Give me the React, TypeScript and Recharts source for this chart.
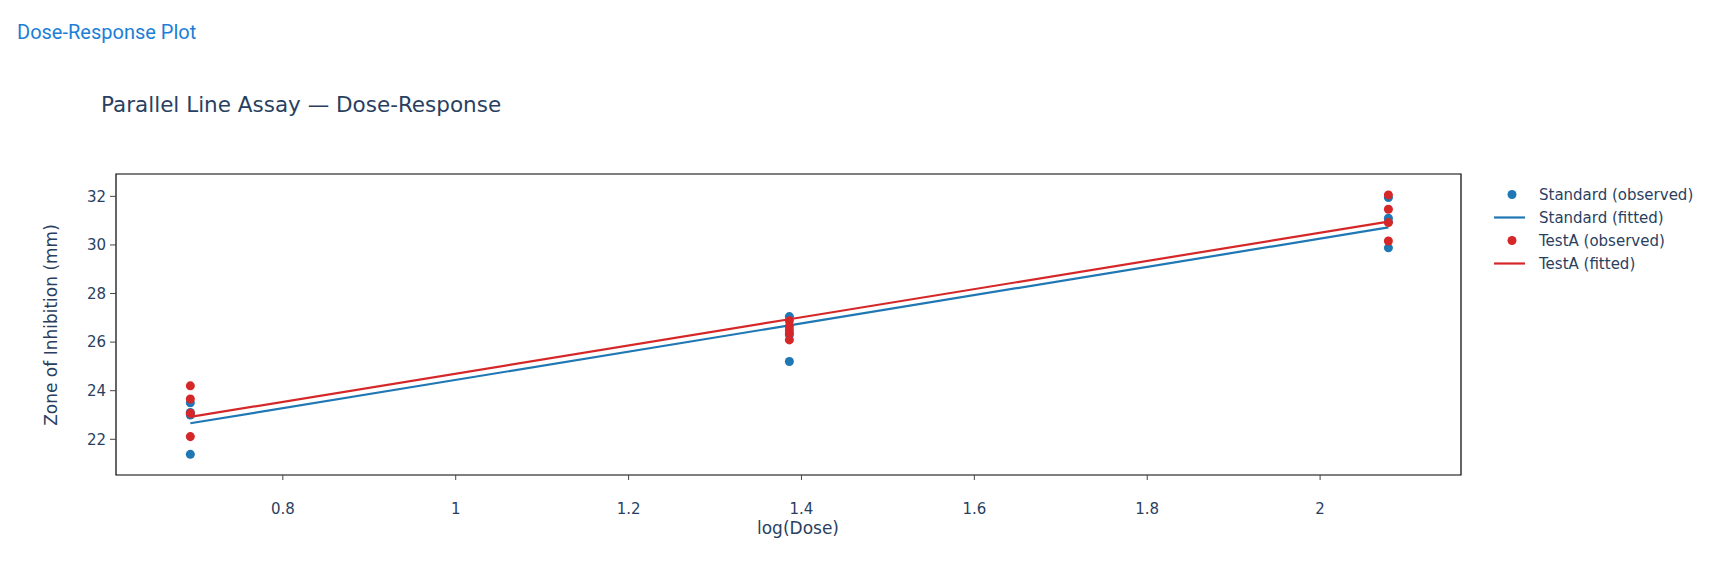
import React from "react";
import {
  ComposedChart,
  Scatter,
  XAxis,
  YAxis,
  ReferenceArea,
} from "recharts";

// log(Dose) levels
const LOG_DOSES = [0.693, 1.386, 2.079];

// observed zones (mm), 4 replicates per dose
const STD_OBSERVED = [
  [23.5, 23.1, 23.0, 21.38],
  [27.05, 26.5, 26.3, 25.2],
  [31.95, 31.1, 30.95, 29.88],
];
const TEST_OBSERVED = [
  [24.2, 23.66, 23.07, 22.11],
  [26.88, 26.64, 26.38, 26.09],
  [32.06, 31.47, 30.92, 30.16],
];

// fitted responses at each dose
const STD_FITTED = [22.66, 26.69, 30.72];
const TEST_FITTED = [22.92, 26.94, 30.96];

const X_TICKS = [0.8, 1, 1.2, 1.4, 1.6, 1.8, 2];
const Y_TICKS = [22, 24, 26, 28, 30, 32];
const X_DOMAIN: [number, number] = [0.607, 2.163];
const Y_DOMAIN: [number, number] = [20.53, 32.92];

const BLUE = "#1f77b4";
const RED = "#d62728";
const TEXT = "#2a3f5f";
const FONT = "'DejaVu Sans', Verdana, sans-serif";

const toPoints = (groups: number[][]) =>
  groups.flatMap((vals, i) => vals.map((y) => ({ x: LOG_DOSES[i], y })));
const toLine = (vals: number[]) => vals.map((y, i) => ({ x: LOG_DOSES[i], y }));

const stdPoints = toPoints(STD_OBSERVED);
const testPoints = toPoints(TEST_OBSERVED);
const stdLine = toLine(STD_FITTED);
const testLine = toLine(TEST_FITTED);

const legendItems = [
  { label: "Standard (observed)", color: BLUE, kind: "dot" },
  { label: "Standard (fitted)", color: BLUE, kind: "line" },
  { label: "TestA (observed)", color: RED, kind: "dot" },
  { label: "TestA (fitted)", color: RED, kind: "line" },
];

const noShape = () => <g />;

export default function App() {
  return (
    <div
      style={{
        position: "absolute",
        left: 0,
        top: 0,
        width: 1712,
        height: 562,
        background: "#fff",
        fontFamily: FONT,
        color: TEXT,
      }}
    >
      <div
        style={{
          position: "absolute",
          left: 17,
          top: 20,
          fontFamily: "Roboto, sans-serif",
          fontSize: 20,
          color: "#1c7ed6",
        }}
      >
        Dose-Response Plot
      </div>
      <div style={{ position: "absolute", left: 101, top: 92, fontSize: 21.5 }}>
        Parallel Line Assay — Dose-Response
      </div>

      <div style={{ position: "absolute", left: 0, top: 0 }}>
        <ComposedChart
          width={1712}
          height={562}
          margin={{ top: 174, right: 251, bottom: 57, left: 56 }}
        >
          <XAxis
            type="number"
            dataKey="x"
            domain={X_DOMAIN}
            ticks={X_TICKS}
            allowDataOverflow
            height={30}
            tickSize={5}
            tickMargin={23}
            axisLine={false}
            tickLine={{ stroke: "#444" }}
            tick={{ fill: TEXT, fontSize: 15, fontFamily: FONT }}
          />
          <YAxis
            type="number"
            dataKey="y"
            domain={Y_DOMAIN}
            ticks={Y_TICKS}
            allowDataOverflow
            width={60}
            tickSize={6}
            tickMargin={4}
            axisLine={false}
            tickLine={{ stroke: "#444" }}
            tick={{ fill: TEXT, fontSize: 15, fontFamily: FONT }}
          />
          <ReferenceArea
            x1={X_DOMAIN[0]}
            x2={X_DOMAIN[1]}
            y1={Y_DOMAIN[0]}
            y2={Y_DOMAIN[1]}
            fill="none"
            stroke="#000"
            strokeWidth={1.2}
          />
          <Scatter
            data={stdPoints}
            fill={BLUE}
            shape="circle"
            isAnimationActive={false}
          />
          <Scatter
            data={stdLine}
            line={{ stroke: BLUE, strokeWidth: 2.2 }}
            shape={noShape}
            isAnimationActive={false}
          />
          <Scatter
            data={testPoints}
            fill={RED}
            shape="circle"
            isAnimationActive={false}
          />
          <Scatter
            data={testLine}
            line={{ stroke: RED, strokeWidth: 2.2 }}
            shape={noShape}
            isAnimationActive={false}
          />
        </ComposedChart>
      </div>

      <div
        style={{
          position: "absolute",
          left: 51,
          top: 325,
          transform: "translate(-50%, -50%) rotate(-90deg)",
          fontSize: 17,
          whiteSpace: "nowrap",
        }}
      >
        Zone of Inhibition (mm)
      </div>
      <div
        style={{
          position: "absolute",
          left: 798,
          top: 528,
          transform: "translate(-50%, -50%)",
          fontSize: 17,
          whiteSpace: "nowrap",
        }}
      >
        log(Dose)
      </div>

      <div style={{ position: "absolute", left: 1494, top: 183 }}>
        {legendItems.map((item) => (
          <div
            key={item.label}
            style={{ display: "flex", alignItems: "center", height: 23 }}
          >
            <svg width={45} height={23}>
              {item.kind === "dot" ? (
                <circle cx={18} cy={11.5} r={4.5} fill={item.color} />
              ) : (
                <line
                  x1={0}
                  x2={31}
                  y1={11.5}
                  y2={11.5}
                  stroke={item.color}
                  strokeWidth={2.2}
                />
              )}
            </svg>
            <span style={{ fontSize: 15, whiteSpace: "nowrap" }}>
              {item.label}
            </span>
          </div>
        ))}
      </div>
    </div>
  );
}
